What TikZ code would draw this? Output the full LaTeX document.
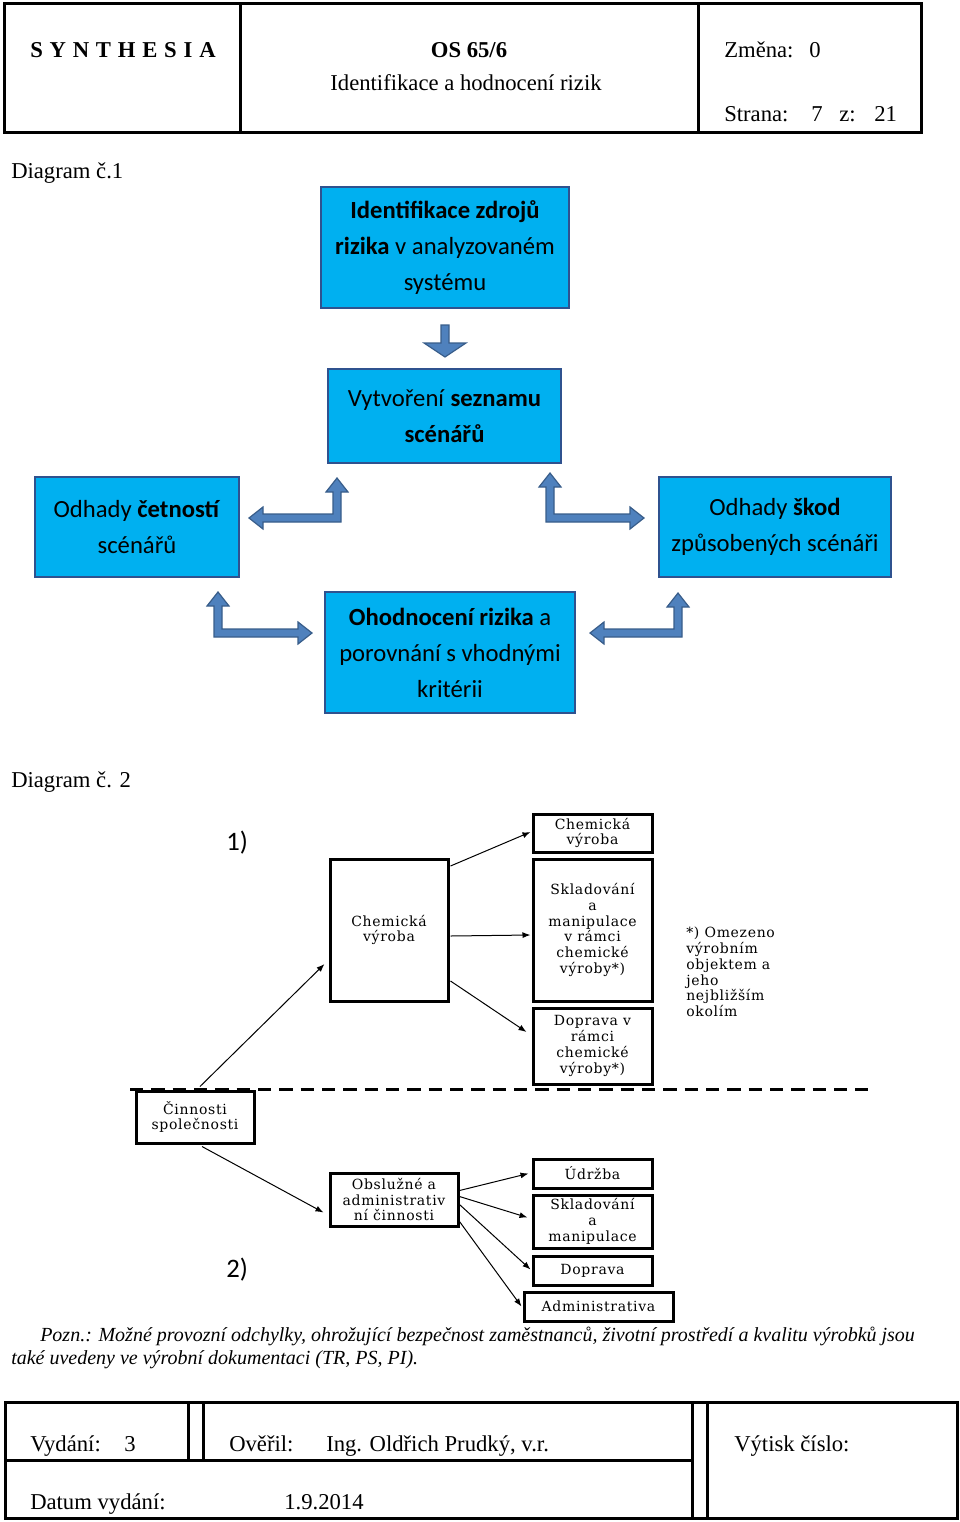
\documentclass[tikz,border=0pt]{standalone}
\usepackage{fontspec}
\setmainfont{Liberation Serif}
\newfontfamily\calibri{Carlito}
\newfontfamily\ctyrka[LetterSpace=5]{DejaVu Serif}
\newfontfamily\rozpal[LetterSpace=30]{Liberation Serif}
\usepackage{tikz}
\usetikzlibrary{arrows.meta,calc}

\definecolor{vypln}{RGB}{0,176,240}
\definecolor{okraj}{RGB}{47,82,143}
\definecolor{sipkavypln}{RGB}{79,129,189}
\definecolor{sipkaokraj}{RGB}{56,93,138}

\tikzset{
  ramec/.style={line width=2.25pt},
  popis/.style={inner sep=0pt, anchor=base west, font=\fontsize{17}{20}\selectfont},
  modry/.style={draw=okraj, fill=vypln, line width=1.5pt, align=center, inner sep=0pt, font=\calibri\fontsize{18.5}{27}\selectfont},
  cerny/.style={draw, fill=white, line width=2.25pt, align=center, inner sep=0pt, font=\ctyrka\fontsize{10.5}{11.85}\selectfont},
  tenka/.style={line width=0.75pt, -{Latex[length=6pt,width=4.5pt]}},
  blok/.style={draw=sipkaokraj, fill=sipkavypln, line width=0.9pt, line join=miter},
  % pics are drawn with y pointing up
  pics/lomena/.style 2 args={code={
    \draw[blok] (-4,-4) -- (-4,#1-14) -- (-11,#1-14) -- (0,#1) -- (11,#1-14) -- (4,#1-14) -- (4,4) -- (#2-14,4) -- (#2-14,11) -- (#2,0) -- (#2-14,-11) -- (#2-14,-4) -- cycle ;
  }},
  pics/dolu/.style={code={
    \draw[blok] (-4,0) -- (-4,-18) -- (-21,-18) -- (0,-32) -- (21,-18) -- (4,-18) -- (4,0) -- cycle ;
  }}
}

\begin{document}
\begin{tikzpicture}[x=0.75pt,y=0.75pt,yscale=-1,xscale=1]
    \useasboundingbox (0,0) rectangle (960,1522); %page of 960 x 1522

    %Shape: Rectangle - header
    \draw [ramec] (4,3) rectangle (921,132) ;
    %Straight Lines
    \draw [ramec] (240,3) -- (240,132) ;
    %Straight Lines
    \draw [ramec] (698,3) -- (698,132) ;

    % Text Node
    \node [popis] (firma) at (30,57) {\rozpal\bfseries SYNTHESIA};
    % Text Node
    \node [popis, anchor=base] (oznaceni) at (469,57) {\bfseries OS 65/6};
    % Text Node
    \node [popis, anchor=base] (nazev) at (466,90) {Identifikace a hodnocení rizik};
    % Text Node
    \node [popis] (zmena) at (724,57) {Změna:};
    \node [popis] (zmenac) at (809,57) {0};
    % Text Node
    \node [popis] (strana) at (724,121) {Strana:};
    \node [popis] (stranac) at (811,121) {7};
    \node [popis] (zz) at (839,121) {z:};
    \node [popis] (celkem) at (874,121) {21};

    % Text Node
    \node [popis] (diag1) at (11,178) {Diagram č.1};

    %Diagram 1 - blue boxes
    \node [modry, minimum width=186pt, minimum height=90.75pt] (zdroje) at (445,247.5) {\textbf{Identifikace zdrojů}\\\textbf{rizika} v analyzovaném\\systému};
    \node [modry, minimum width=174.75pt, minimum height=70.5pt] (seznam) at (444.5,416) {Vytvoření \textbf{seznamu}\\\textbf{scénářů}};
    \node [modry, minimum width=153pt, minimum height=75pt] (cetnost) at (137,527) {Odhady \textbf{četností}\\scénářů};
    \node [modry, minimum width=174pt, minimum height=75pt] (skody) at (775,527) {Odhady \textbf{škod}\\způsobených scénáři};
    \node [modry, minimum width=187.5pt, minimum height=90.75pt] (ohodnoceni) at (450,652.5) {\textbf{Ohodnocení rizika} a\\porovnání s vhodnými\\kritérii};

    %Block arrows
    \coordinate (dolA) at (445,325) ;
    \coordinate (rohA) at (337,518) ;
    \coordinate (rohB) at (550,518) ;
    \coordinate (rohC) at (218,633) ;
    \coordinate (rohD) at (678,633) ;
    \pic at (dolA) {dolu};
    \pic [xscale=-1] at (rohA) {lomena={40}{88}};
    \pic at (rohB) {lomena={45}{94}};
    \pic at (rohC) {lomena={41}{94}};
    \pic [xscale=-1] at (rohD) {lomena={40}{88}};

    % Text Node
    \node [popis] (diag2) at (11,787) {Diagram č. 2};
    % Text Node
    \node [popis, font=\calibri\fontsize{20}{24}\selectfont] (jedna) at (226,850) {1)};
    % Text Node
    \node [popis, font=\calibri\fontsize{20}{24}\selectfont] (dve) at (226,1277) {2)};

    %Straight Lines - border of 1) and 2)
    \draw [line width=2.25pt, dash pattern={on 10pt off 6pt}] (130,1089) -- (868,1089) ;

    %Diagram 2 - black boxes
    \node [cerny, minimum width=88.5pt, minimum height=106.5pt] (chem) at (389,930) {Chemická\\výroba};
    \node [cerny, minimum width=89.25pt, minimum height=28.5pt] (chemT) at (592.5,833) {Chemická\\výroba};
    \node [cerny, minimum width=89.25pt, minimum height=106.5pt] (sklad1) at (592.5,930) {Skladování\\a\\manipulace\\v rámci\\chemické\\výroby*)};
    \node [cerny, minimum width=89.25pt, minimum height=57pt] (dopr1) at (592.5,1046) {Doprava v\\rámci\\chemické\\výroby*)};
    \node [cerny, minimum width=88.5pt, minimum height=39pt] (cinn) at (195,1117) {Činnosti\\společnosti};
    \node [cerny, minimum width=96pt, minimum height=39.75pt] (obsl) at (394,1199.5) {Obslužné a\\administrativ\\ní činnosti};
    \node [cerny, minimum width=89.25pt, minimum height=21.75pt] (udrz) at (592.5,1173.5) {Údržba};
    \node [cerny, minimum width=89.25pt, minimum height=39.75pt] (sklad2) at (592.5,1221.5) {Skladování\\a\\manipulace};
    \node [cerny, minimum width=89.25pt, minimum height=21.75pt] (dopr2) at (592.5,1270.5) {Doprava};
    \node [cerny, minimum width=111.75pt, minimum height=21.75pt] (admin) at (598.5,1306.5) {Administrativa};
    % Text Node
    \node [inner sep=0pt, anchor=north west, align=left, font=\ctyrka\fontsize{10.5}{11.8}\selectfont] (pozn1) at (686,927) {*) Omezeno\\výrobním\\objektem a\\jeho\\nejbližším\\okolím};

    %Straight Lines - arrows
    \draw [tenka] ($(cinn.north)+(5,-3)$) -- ($(chem.west)+(-4,34)$) ;
    \draw [tenka] ($(chem.east)+(1,-64)$) -- ($(chemT.west)+(-1,-1)$) ;
    \draw [tenka] ($(chem.east)+(1,6)$) -- ($(sklad1.west)+(-1,5)$) ;
    \draw [tenka] ($(chem.east)+(1,51)$) -- ($(dopr1.west)+(-5,-14)$) ;
    \draw [tenka] ($(cinn.south)+(7,2)$) -- ($(obsl.west)+(-5,13)$) ;
    \draw [tenka] ($(obsl.east)+(0,-9)$) -- ($(udrz.west)+(-3,0)$) ;
    \draw [tenka] ($(obsl.east)+(0,-3)$) -- ($(sklad2.west)+(-4,-4)$) ;
    \draw [tenka] ($(obsl.east)+(0,5)$) -- ($(dopr2.west)+(-1,-1)$) ;
    \draw [tenka] ($(obsl.east)+(0,22)$) -- ($(admin.west)+(-1,0)$) ;

    % Text Node
    \node [popis, font=\itshape\fontsize{15}{18}\selectfont] (pozn) at (40,1341) {Pozn.: Možné provozní odchylky, ohrožující bezpečnost zaměstnanců, životní prostředí a kvalitu výrobků jsou};
    % Text Node
    \node [popis, font=\itshape\fontsize{15}{18}\selectfont] (pozn2) at (11,1364) {také uvedeny ve výrobní dokumentaci (TR, PS, PI).};

    %Shape: Rectangle - footer
    \draw [ramec] (5,1402) rectangle (957,1518) ;
    %Straight Lines
    \draw [ramec] (5,1460) -- (692,1460) ;
    %Straight Lines
    \draw [ramec] (188,1402) -- (188,1460) ;
    \draw [ramec] (203,1402) -- (203,1460) ;
    %Straight Lines
    \draw [ramec] (692,1402) -- (692,1518) ;
    \draw [ramec] (707,1402) -- (707,1518) ;

    % Text Node
    \node [popis] (vydani) at (30,1451) {Vydání:};
    \node [popis] (vydanic) at (124,1451) {3};
    % Text Node
    \node [popis] (overil) at (229,1451) {Ověřil:};
    \node [popis] (overiljm) at (326,1451) {Ing. Oldřich Prudký, v.r.};
    % Text Node
    \node [popis] (vytisk) at (734,1451) {Výtisk číslo:};
    % Text Node
    \node [popis] (datum) at (30,1509) {Datum vydání:};
    \node [popis] (datumc) at (284,1509) {1.9.2014};

\end{tikzpicture}
\end{document}
